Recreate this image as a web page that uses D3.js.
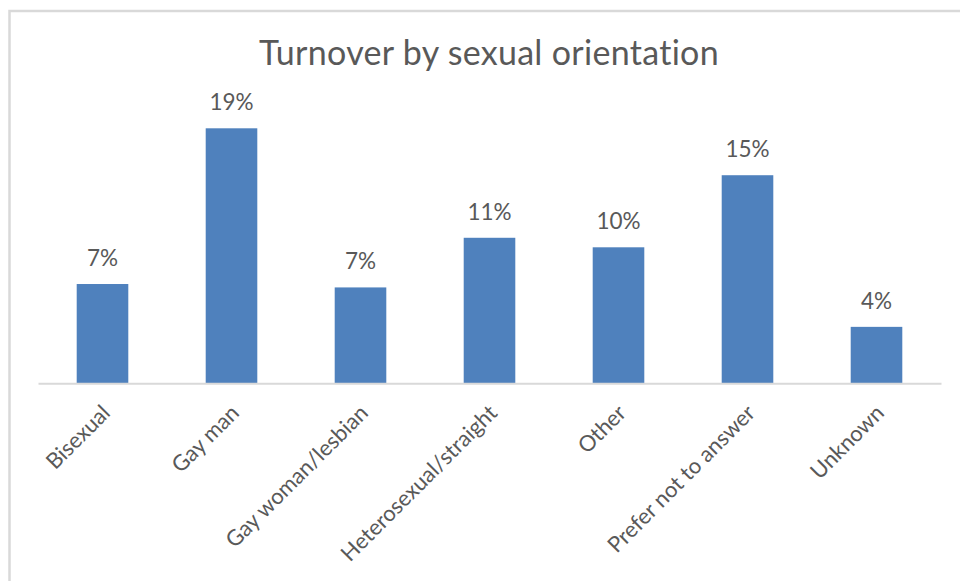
<!DOCTYPE html>
<html>
<head>
<meta charset="utf-8">
<script src="https://cdn.jsdelivr.net/npm/d3@7"></script>
<style>
  html, body { margin: 0; padding: 0; background: #fff; }
  svg { display: block; }
  text { font-family: Lato, "Open Sans", sans-serif; fill: #595959; }
</style>
</head>
<body>
<svg id="chart" width="960" height="581"></svg>
<script>
// Turnover rate per sexual orientation group
const categories = ["Bisexual", "Gay man", "Gay woman/lesbian", "Heterosexual/straight", "Other", "Prefer not to answer", "Unknown"];
const turnover = [0.073, 0.1875, 0.0705, 0.107, 0.100, 0.153, 0.0415];
const yDomain = [0, 0.20];
const chartTitle = "Turnover by sexual orientation";

const svg = d3.select("#chart");
const W = 960, H = 581;

// chart frame
svg.append("rect")
  .attr("x", 9.5).attr("y", 11)
  .attr("width", W + 10).attr("height", H + 10)
  .attr("fill", "#fff")
  .attr("stroke", "#d9d9d9")
  .attr("stroke-width", 2.5);

const plot = { left: 38, right: 941, baseline: 383.3 };

const x = d3.scaleBand()
  .domain(categories)
  .range([plot.left, plot.right])
  .paddingInner(0.6)
  .paddingOuter(0.3);

const y = d3.scaleLinear()
  .domain(yDomain)
  .range([plot.baseline, plot.baseline - 272]);

const data = categories.map((c, i) => ({ category: c, value: turnover[i] }));
const pct = d3.format(".0%");

// title
svg.append("text")
  .attr("x", 489).attr("y", 65)
  .attr("text-anchor", "middle")
  .style("font-size", "34px")
  .style("letter-spacing", "0.3px")
  .text(chartTitle);

// bars
svg.append("g").selectAll("rect")
  .data(data)
  .join("rect")
  .attr("x", d => x(d.category))
  .attr("width", x.bandwidth())
  .attr("y", d => y(d.value))
  .attr("height", d => y(0) - y(d.value))
  .attr("fill", "#4f81bd");

// value labels
svg.append("g").selectAll("text")
  .data(data)
  .join("text")
  .attr("x", d => x(d.category) + x.bandwidth() / 2)
  .attr("y", d => y(d.value) - 18)
  .attr("text-anchor", "middle")
  .style("font-size", "22.5px")
  .text(d => pct(d.value));

// category axis
const axis = svg.append("g")
  .attr("transform", `translate(0,${plot.baseline})`)
  .call(d3.axisBottom(x).tickSize(0).tickSizeOuter(0).tickPadding(0));

axis.select(".domain")
  .attr("stroke", "#d9d9d9")
  .attr("stroke-width", 2);

axis.selectAll(".tick text")
  .attr("fill", "#595959")
  .style("font-family", "Lato, 'Open Sans', sans-serif")
  .style("font-size", "22px")
  .attr("text-anchor", "end")
  .attr("dy", 0)
  .attr("transform", "translate(9,31) rotate(-45)");
</script>
</body>
</html>
